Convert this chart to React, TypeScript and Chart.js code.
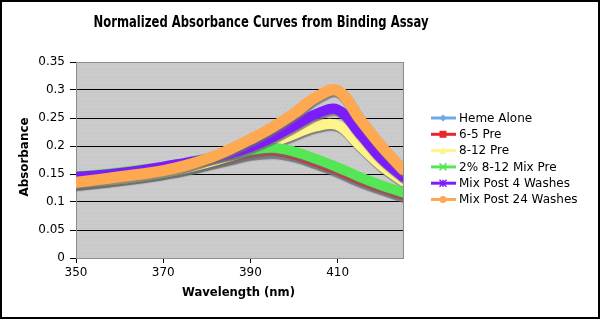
import React, { useEffect, useRef } from "react";
import { Chart, registerables } from "chart.js";

Chart.register(...registerables);

const chartTitle = "Normalized Absorbance Curves from Binding Assay";
const xAxisTitle = "Wavelength (nm)";
const yAxisTitle = "Absorbance";

const wavelengths = [350, 355, 360, 365, 370, 375, 380, 385, 390, 395, 400, 405, 410, 415, 420, 425];
const xTickValues = [350, 370, 390, 410];
const yTickValues = [0, 0.05, 0.1, 0.15, 0.2, 0.25, 0.3, 0.35];

const seriesNames = [
  "Heme Alone",
  "6-5 Pre",
  "8-12 Pre",
  "2% 8-12 Mix Pre",
  "Mix Post 4 Washes",
  "Mix Post 24 Washes",
];

const hemeAlone = [0.131, 0.135, 0.140, 0.145, 0.151, 0.158, 0.167, 0.176, 0.185, 0.188, 0.182, 0.169, 0.154, 0.137, 0.123, 0.110];
const pre65 = [0.132, 0.136, 0.141, 0.146, 0.152, 0.159, 0.168, 0.178, 0.187, 0.191, 0.184, 0.171, 0.156, 0.139, 0.125, 0.112];
const pre812 = [0.133, 0.137, 0.141, 0.146, 0.152, 0.160, 0.170, 0.181, 0.193, 0.206, 0.221, 0.235, 0.237, 0.201, 0.165, 0.137];
const mixPre = [0.146, 0.149, 0.153, 0.158, 0.163, 0.170, 0.178, 0.186, 0.193, 0.197, 0.190, 0.177, 0.162, 0.145, 0.130, 0.117];
const post4 = [0.145, 0.148, 0.152, 0.157, 0.163, 0.170, 0.177, 0.186, 0.198, 0.215, 0.236, 0.257, 0.265, 0.223, 0.178, 0.145];
const post24 = [0.135, 0.140, 0.145, 0.150, 0.156, 0.165, 0.177, 0.193, 0.212, 0.233, 0.258, 0.287, 0.299, 0.249, 0.200, 0.158];

const seriesValues = [hemeAlone, pre65, pre812, mixPre, post4, post24];
const seriesColors = ["#6fa8e6", "#e8262e", "#fff38c", "#55e655", "#7d1cfb", "#ffa852"];
const seriesWidths = [9, 9, 10, 10, 10, 11];
const seriesMarkers = ["diamond", "square", "triangle", "cross", "star", "circle"];

const FONT = '"DejaVu Sans", Verdana, sans-serif';

function drawFitted(ctx: CanvasRenderingContext2D, text: string, x: number, y: number, font: string, width: number, rotate = false) {
  ctx.save();
  ctx.font = font;
  ctx.fillStyle = "#000";
  ctx.textAlign = "center";
  ctx.textBaseline = "middle";
  const w = ctx.measureText(text).width;
  ctx.translate(x, y);
  if (rotate) ctx.rotate(-Math.PI / 2);
  ctx.scale(width / w, 1);
  ctx.fillText(text, 0, 0);
  ctx.restore();
}

function drawMarker(ctx: CanvasRenderingContext2D, kind: string, x: number, y: number, color: string) {
  ctx.save();
  ctx.fillStyle = color;
  ctx.strokeStyle = color;
  ctx.lineWidth = 1.5;
  const r = 3.5;
  ctx.beginPath();
  if (kind === "diamond") {
    ctx.moveTo(x, y - r);
    ctx.lineTo(x + r, y);
    ctx.lineTo(x, y + r);
    ctx.lineTo(x - r, y);
    ctx.closePath();
    ctx.fill();
  } else if (kind === "square") {
    ctx.rect(x - r, y - r, 2 * r, 2 * r);
    ctx.fill();
  } else if (kind === "triangle") {
    ctx.moveTo(x, y - r);
    ctx.lineTo(x + r, y + r);
    ctx.lineTo(x - r, y + r);
    ctx.closePath();
    ctx.fill();
  } else if (kind === "cross") {
    ctx.moveTo(x - r, y - r);
    ctx.lineTo(x + r, y + r);
    ctx.moveTo(x + r, y - r);
    ctx.lineTo(x - r, y + r);
    ctx.stroke();
  } else if (kind === "star") {
    ctx.moveTo(x - r, y - r);
    ctx.lineTo(x + r, y + r);
    ctx.moveTo(x + r, y - r);
    ctx.lineTo(x - r, y + r);
    ctx.moveTo(x, y - r);
    ctx.lineTo(x, y + r);
    ctx.stroke();
  } else {
    ctx.arc(x, y, r, 0, Math.PI * 2);
    ctx.fill();
  }
  ctx.restore();
}

const decorPlugin = {
  id: "decor",
  beforeDraw(chart: any) {
    const { ctx, chartArea: a, width, height } = chart;
    ctx.save();
    ctx.fillStyle = "#ffffff";
    ctx.fillRect(0, 0, width, height);
    ctx.fillStyle = "#cbcbcb";
    ctx.fillRect(a.left, a.top, a.right - a.left, a.bottom - a.top);
    ctx.fillStyle = "rgba(185,185,200,0.6)";
    for (let yy = a.top + 2; yy < a.bottom; yy += 4) {
      for (let xx = a.left + ((yy / 4) % 2 ? 1 : 3); xx < a.right; xx += 4) {
        ctx.fillRect(xx, yy, 1, 1);
      }
    }
    ctx.restore();
  },
  beforeDatasetsDraw(chart: any) {
    const { ctx, chartArea: a } = chart;
    ctx.save();
    ctx.strokeStyle = "#8c8c8c";
    ctx.lineWidth = 1;
    ctx.strokeRect(a.left + 0.5, a.top + 0.5, a.right - a.left, a.bottom - a.top);
    ctx.restore();
  },
  beforeDatasetDraw(chart: any) {
    const ctx = chart.ctx;
    ctx.save();
    ctx.shadowColor = "rgba(110,110,110,0.8)";
    ctx.shadowOffsetX = 1;
    ctx.shadowOffsetY = 2;
    ctx.shadowBlur = 1;
  },
  afterDatasetDraw(chart: any) {
    chart.ctx.restore();
  },
  afterDraw(chart: any) {
    const { ctx, width, height } = chart;
    drawFitted(ctx, chartTitle, 261, 23, `bold 15px ${FONT}`, 335);
    drawFitted(ctx, xAxisTitle, 238.5, 293, `bold 12px ${FONT}`, 113);
    drawFitted(ctx, yAxisTitle, 25, 157, `bold 12px ${FONT}`, 79, true);
    const ds = chart.data.datasets;
    ctx.save();
    ds.forEach((d: any, i: number) => {
      const y = 118 + i * 16.3;
      ctx.strokeStyle = d.borderColor;
      ctx.lineWidth = 3;
      ctx.beginPath();
      ctx.moveTo(431, y);
      ctx.lineTo(456, y);
      ctx.stroke();
      drawMarker(ctx, seriesMarkers[i], 443, y, d.borderColor);
      ctx.fillStyle = "#000";
      ctx.font = `12px ${FONT}`;
      ctx.textAlign = "left";
      ctx.textBaseline = "middle";
      ctx.fillText(d.label, 459, y + 0.5);
    });
    ctx.strokeStyle = "#000";
    ctx.lineWidth = 2;
    ctx.strokeRect(1, 1, width - 2, height - 2);
    ctx.restore();
  },
};

export default function App() {
  const ref = useRef<HTMLCanvasElement>(null);
  useEffect(() => {
    const canvas = ref.current;
    if (!canvas) return;
    const n = seriesNames.length;
    const datasets = seriesNames.map((name, i) => ({
      label: name,
      data: wavelengths.map((w, j) => ({ x: w, y: seriesValues[i][j] })),
      borderColor: seriesColors[i],
      backgroundColor: seriesColors[i],
      borderWidth: seriesWidths[i],
      pointRadius: 0,
      tension: 0.4,
      order: n - 1 - i,
      borderCapStyle: "round" as const,
      borderJoinStyle: "round" as const,
      fill: false,
    }));
    const chart = new Chart(canvas, {
      type: "line",
      data: { datasets },
      plugins: [decorPlugin],
      options: {
        animation: false,
        responsive: false,
        events: [],
        layout: { padding: { top: 62, right: 197, bottom: 0, left: 0 } },
        plugins: { legend: { display: false }, title: { display: false }, tooltip: { enabled: false } },
        scales: {
          x: {
            type: "linear",
            min: 350,
            max: 425,
            afterFit: (s: any) => { s.height = 61; },
            afterBuildTicks: (s: any) => { s.ticks = xTickValues.map((v) => ({ value: v })); },
            ticks: { color: "#000", font: { family: FONT, size: 12 }, padding: 3, maxRotation: 0, callback: (v: any) => String(v) },
            grid: { drawOnChartArea: false, drawTicks: true, tickLength: 5, tickColor: "#000" },
            border: { color: "#000", width: 1 },
          },
          y: {
            type: "linear",
            min: 0,
            max: 0.35,
            afterFit: (s: any) => { s.width = 76; },
            afterBuildTicks: (s: any) => { s.ticks = yTickValues.map((v) => ({ value: v })); },
            ticks: { color: "#000", font: { family: FONT, size: 12 }, padding: 5, callback: (v: any) => String(Math.round(v * 100) / 100) },
            grid: {
              color: (c: any) => (c.tick && (c.tick.value === 0 || c.tick.value === 0.35) ? "#8c8c8c" : "#000"),
              lineWidth: 1,
              tickLength: 6,
              tickColor: "#000",
            },
            border: { color: "#000", width: 1 },
          },
        },
      },
    });
    return () => chart.destroy();
  }, []);
  return (
    <div style={{ position: "fixed", left: 0, top: 0, width: 600, height: 319, background: "#fff" }}>
      <canvas ref={ref} width={600} height={319} style={{ display: "block", width: 600, height: 319 }} />
    </div>
  );
}
